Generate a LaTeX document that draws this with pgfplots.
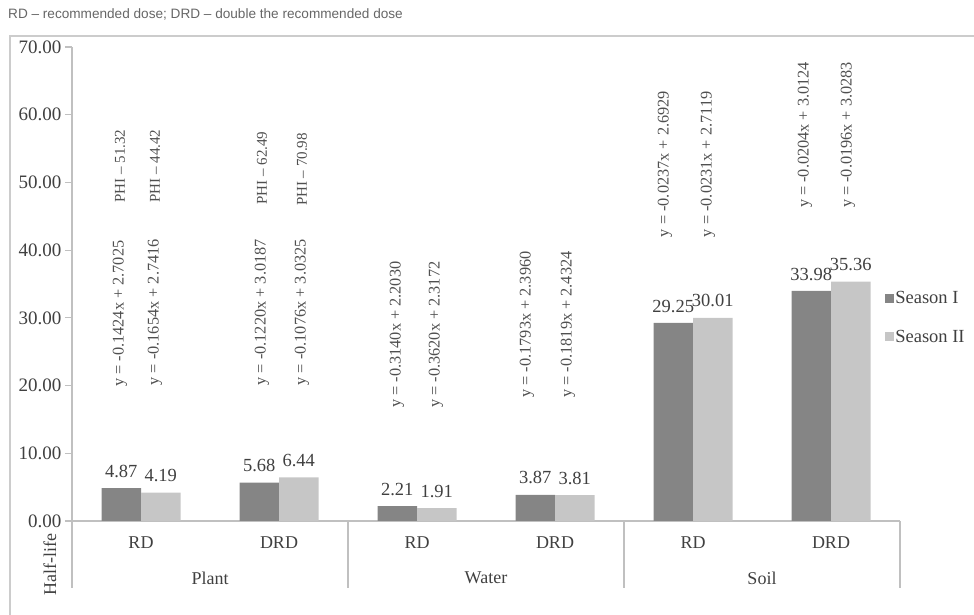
\documentclass[border=0pt]{standalone}
\usepackage{pgfplots}
\pgfplotsset{compat=1.18}
\usepackage{fontspec}
\setmainfont{Liberation Serif}
\newfontfamily\capfont{Liberation Sans}
\definecolor{darkbar}{HTML}{858585}
\definecolor{lightbar}{HTML}{C6C6C6}
\definecolor{txt}{HTML}{404040}
\definecolor{eqtxt}{HTML}{505050}
\definecolor{axline}{HTML}{C0C0C0}
\definecolor{framec}{HTML}{CCCCCC}
\newcommand{\eqnode}[3]{\node[rotate=90,anchor=west,inner sep=0pt,font=\fontsize{16.3}{16}\selectfont,text=eqtxt] at (axis cs:#1,#2) {#3};}
\newcommand{\phinode}[3]{\node[rotate=90,anchor=west,inner sep=0pt,font=\fontsize{15}{15}\selectfont,text=eqtxt] at (axis cs:#1,#2) {#3};}
\begin{document}
\begin{tikzpicture}
\useasboundingbox (0pt,0pt) rectangle (974pt,615pt);
\draw[framec, line width=1.5pt] (10pt,0pt) -- (10pt,579pt) -- (974pt,579pt);
\node[anchor=west, inner sep=0pt, font=\capfont\fontsize{13.6}{13}\selectfont, text=gray!80!black] at (8pt,601pt) {RD – recommended dose; DRD – double the recommended dose};
\begin{axis}[
  at={(72pt,94pt)}, anchor=south west,
  scale only axis, width=828pt, height=474pt,
  xmin=-0.5, xmax=5.5, ymin=0, ymax=70,
  enlargelimits=false, clip=false,
  axis x line*=bottom, axis y line*=left,
  axis line style={axline, line width=1.2pt},
  xtick=\empty,
  ytick={0,10,...,70},
  tick align=outside, major tick length=7pt,
  ytick style={axline, line width=1.2pt},
  yticklabel style={font=\fontsize{19}{19}\selectfont, text=txt},
  /pgf/number format/.cd, fixed, fixed zerofill, precision=2, assume math mode=true,
  /pgfplots/.cd,
  ybar=0pt, bar width=39.5pt,
  nodes near coords,
  every node near coord/.append style={font=\fontsize{18.5}{18}\selectfont, text=txt, yshift=7pt},
  legend image code/.code={\fill[#1] (0pt,-4pt) rectangle (8.5pt,4.5pt);},
  legend style={at={(0.982,0.429)}, anchor=west, draw=none, fill=none, inner sep=0pt,
    font=\fontsize{18.5}{18}\selectfont, text=txt, row sep=21.5pt, nodes={inner sep=1.5pt}},
  legend cell align=left,
  every axis y label/.style={at={(rel axis cs:-0.0266,-0.0928)}, rotate=90, anchor=center, font=\fontsize{18}{18}\selectfont, text=txt},
  ylabel={Half-life},
]
\addplot[fill=darkbar, draw=none] coordinates {(0,4.87) (1,5.68) (2,2.21) (3,3.87) (4,29.25) (5,33.98)};
\addplot[fill=lightbar, draw=none] coordinates {(0,4.19) (1,6.44) (2,1.91) (3,3.81) (4,30.01) (5,35.36)};
\legend{Season I, Season II}
\draw[axline, line width=1.2pt] (axis cs:-0.5,0) -- ++(0pt,-67pt);
\draw[axline, line width=1.2pt] (axis cs:1.5,0) -- ++(0pt,-67pt);
\draw[axline, line width=1.2pt] (axis cs:3.5,0) -- ++(0pt,-67pt);
\draw[axline, line width=1.2pt] (axis cs:5.5,0) -- ++(0pt,-67pt);
\node[font=\fontsize{18}{18}\selectfont, text=txt] at ([yshift=-22pt]axis cs:0,0) {RD};
\node[font=\fontsize{18}{18}\selectfont, text=txt] at ([yshift=-22pt]axis cs:1,0) {DRD};
\node[font=\fontsize{18}{18}\selectfont, text=txt] at ([yshift=-22pt]axis cs:2,0) {RD};
\node[font=\fontsize{18}{18}\selectfont, text=txt] at ([yshift=-22pt]axis cs:3,0) {DRD};
\node[font=\fontsize{18}{18}\selectfont, text=txt] at ([yshift=-22pt]axis cs:4,0) {RD};
\node[font=\fontsize{18}{18}\selectfont, text=txt] at ([yshift=-22pt]axis cs:5,0) {DRD};
\node[font=\fontsize{18}{18}\selectfont, text=txt] at ([yshift=-57pt]axis cs:0.5,0) {Plant};
\node[font=\fontsize{18}{18}\selectfont, text=txt] at ([yshift=-57pt]axis cs:2.5,0) {Water};
\node[font=\fontsize{18}{18}\selectfont, text=txt] at ([yshift=-57pt]axis cs:4.5,0) {Soil};
\eqnode{-0.152}{19.8}{y = -0.1424x + 2.7025}
\eqnode{0.101}{20.0}{y = -0.1654x + 2.7416}
\phinode{-0.152}{47.0}{PHI -- 51.32}
\phinode{0.101}{47.0}{PHI -- 44.42}
\eqnode{0.877}{20.0}{y = -0.1220x + 3.0187}
\eqnode{1.167}{20.0}{y = -0.1076x + 3.0325}
\phinode{0.877}{46.7}{PHI -- 62.49}
\phinode{1.167}{46.5}{PHI -- 70.98}
\eqnode{1.855}{16.7}{y = -0.3140x + 2.2030}
\eqnode{2.138}{16.7}{y = -0.3620x + 2.3172}
\eqnode{2.797}{18.2}{y = -0.1793x + 2.3960}
\eqnode{3.094}{18.2}{y = -0.1819x + 2.4324}
\eqnode{3.797}{41.9}{y = -0.0237x + 2.6929}
\eqnode{4.109}{41.9}{y = -0.0231x + 2.7119}
\eqnode{4.812}{46.2}{y = -0.0204x + 3.0124}
\eqnode{5.123}{46.2}{y = -0.0196x + 3.0283}
\end{axis}
\end{tikzpicture}
\end{document}
